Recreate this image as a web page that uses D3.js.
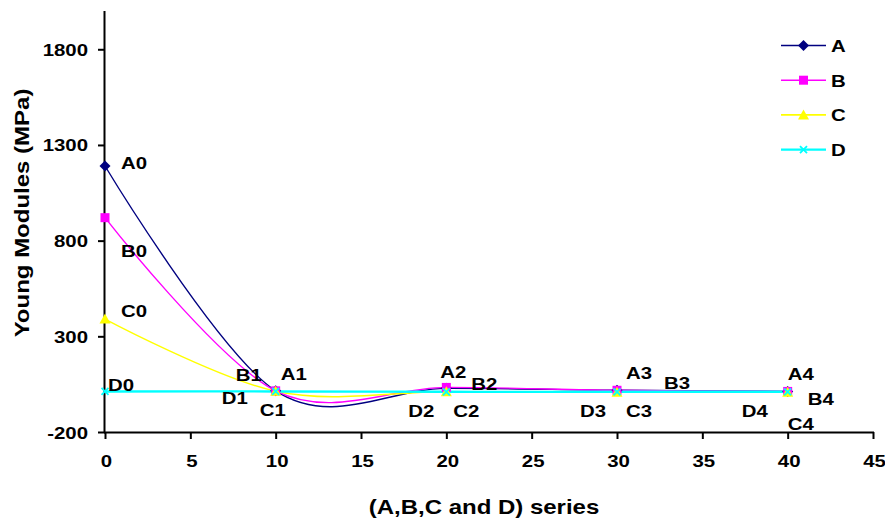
<!DOCTYPE html>
<html><head><meta charset="utf-8">
<script src="https://cdn.jsdelivr.net/npm/d3@7"></script>
<style>
html,body{margin:0;padding:0;background:#fff;}
svg{display:block;}
text{font-family:"Liberation Sans",Arial,sans-serif;font-weight:bold;fill:#000;}
</style></head>
<body>
<svg id="chart" width="885" height="519"></svg>
<script>
// ---- data ----
const xValues = [0, 10, 20, 30, 40];
const seriesNames = ["A", "B", "C", "D"];
const valuesA = [1190, 15, 28, 18, 12];
const valuesB = [920, 15, 33, 18, 12];
const valuesC = [390, 13, 10, 8, 8];
const valuesD = [12, 12, 10, 10, 10];
const xTicks = [0, 5, 10, 15, 20, 25, 30, 35, 40, 45];
const yTicks = [-200, 300, 800, 1300, 1800];
const xTitle = "(A,B,C and D) series";
const yTitle = "Young Modules (MPa)";

// ---- style / layout ----
const colors = {A: "#000080", B: "#FF00FF", C: "#FFFF00", D: "#00FFFF"};
const widths = {A: 1.4, B: 1.4, C: 1.4, D: 2.4};
const SX = 1.2; // horizontal stretch of text
const svg = d3.select("#chart");
const x = d3.scaleLinear().domain([0, 45]).range([105, 873]);
const y = d3.scaleLinear().domain([-200, 2000]).range([432, 11]);

const series = [
  {name: "A", values: valuesA},
  {name: "B", values: valuesB},
  {name: "C", values: valuesC},
  {name: "D", values: valuesD}
];

// label offsets (px) per series/point
const labelOffsets = {
  A: [[16, 3], [5, -11], [-6, -10], [9, -11], [0, -11]],
  B: [[16, 39], [-40, -10], [25, 3], [47, -1], [20, 14]],
  C: [[16, -2], [-16, 25], [7, 25], [9, 25], [0, 38]],
  D: [[3, 0], [-54, 13], [-38, 25], [-37, 25], [-46, 25]]
};

// axes
const yAxis = d3.axisLeft(y).tickValues(yTicks).tickSize(7).tickFormat(d => String(d));
const gy = svg.append("g").attr("transform", "translate(105,0)").call(yAxis);
gy.select(".domain").attr("stroke", "#000").attr("stroke-width", 2).attr("d", `M-0.5,${y(2000)}V${y(-200)+1}`);
gy.selectAll(".tick line").attr("stroke", "#000").attr("stroke-width", 2);
gy.selectAll(".tick text")
  .attr("font-size", 17).attr("font-family", "Liberation Sans, Arial").attr("font-weight", "bold")
  .attr("x", null).attr("dy", null)
  .attr("transform", `translate(-17,6) scale(${SX},1)`)
  .attr("text-anchor", "end");

const xAxis = d3.axisBottom(x).tickValues(xTicks).tickSize(7).tickFormat(d => String(d));
const gx = svg.append("g").attr("transform", "translate(0,432)").call(xAxis);
gx.select(".domain").attr("stroke", "#000").attr("stroke-width", 2).attr("d", `M${x(0)-1},0.5H${x(45)+1}`);
gx.selectAll(".tick line").attr("stroke", "#000").attr("stroke-width", 2);
gx.selectAll(".tick text")
  .attr("font-size", 17).attr("font-family", "Liberation Sans, Arial").attr("font-weight", "bold")
  .attr("y", null).attr("dy", null)
  .attr("transform", `translate(1,35) scale(${SX},1)`)
  .attr("text-anchor", "middle");

// titles
svg.append("text").attr("transform", `translate(484,514) scale(${SX},1)`)
  .attr("text-anchor", "middle").attr("font-size", 20).text(xTitle);
svg.append("text").attr("transform", `translate(29,213) rotate(-90) scale(${SX},1)`)
  .attr("text-anchor", "middle").attr("font-size", 20).text(yTitle);

// lines
const line = d3.line().x((d, i) => x(xValues[i])).y(d => y(d)).curve(d3.curveCardinal.tension(0));
series.forEach(s => {
  svg.append("path").datum(s.values).attr("d", line)
    .attr("fill", "none").attr("stroke", colors[s.name]).attr("stroke-width", widths[s.name]);
});

// markers
function drawMarker(g, name, cx, cy) {
  if (name === "A") {
    g.append("path").attr("d", `M${cx},${cy-5.5}L${cx+5.5},${cy}L${cx},${cy+5.5}L${cx-5.5},${cy}Z`).attr("fill", colors.A);
  } else if (name === "B") {
    g.append("rect").attr("x", cx-4.5).attr("y", cy-4.5).attr("width", 9).attr("height", 9).attr("fill", colors.B);
  } else if (name === "C") {
    g.append("path").attr("d", `M${cx},${cy-5.5}L${cx+5.5},${cy+4.5}L${cx-5.5},${cy+4.5}Z`).attr("fill", colors.C);
  } else {
    g.append("path").attr("d", `M${cx-3.5},${cy-3.5}L${cx+3.5},${cy+3.5}M${cx+3.5},${cy-3.5}L${cx-3.5},${cy+3.5}`)
      .attr("stroke", colors.D).attr("stroke-width", 1.8).attr("fill", "none");
  }
}
const gm = svg.append("g");
series.forEach(s => {
  s.values.forEach((v, i) => drawMarker(gm, s.name, x(xValues[i]), y(v)));
});

// data labels
const gl = svg.append("g");
series.forEach(s => {
  s.values.forEach((v, i) => {
    const o = labelOffsets[s.name][i];
    gl.append("text")
      .attr("transform", `translate(${x(xValues[i]) + o[0]},${y(v) + o[1]}) scale(${SX},1)`)
      .attr("font-size", 17).text(s.name + i);
  });
});

// legend
const lg = svg.append("g");
seriesNames.forEach((n, i) => {
  const ly = 45.5 + i * 34.7;
  lg.append("line").attr("x1", 781).attr("x2", 826).attr("y1", ly).attr("y2", ly)
    .attr("stroke", colors[n]).attr("stroke-width", widths[n] < 2 ? 1.6 : 2.2);
  drawMarker(lg, n, 803.5, ly);
  lg.append("text").attr("transform", `translate(831,${ly + 6.5}) scale(${SX},1)`)
    .attr("font-size", 17).text(n);
});
</script>
</body></html>
